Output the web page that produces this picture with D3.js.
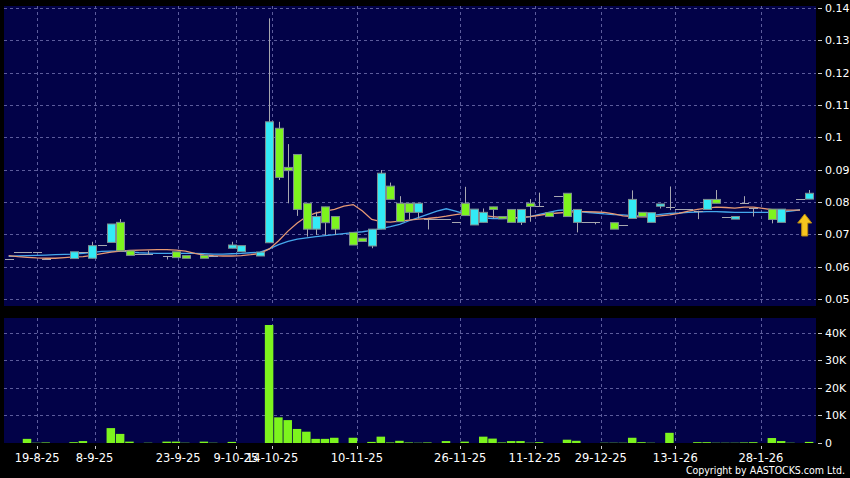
<!DOCTYPE html>
<html><head><meta charset="utf-8">
<script src="https://cdn.jsdelivr.net/npm/d3@7"></script>
<style>html,body{margin:0;padding:0;background:#000;} svg{display:block;}</style>
</head><body>
<script>
// ---- data (one entry per trading slot, null = no mark) ----
const openP  = [.0623,.0646,.0646,.0646,.0625,null,null,.0625,.0646,.0626,.0667,.0675,.0737,.0649,.0638,.0638,null,.0632,.0646,.0634,null,.0635,.0632,null,.0657,.0646,null,.0633,.0674,.1028,.0907,.0947,.0796,.0716,.0785,.0755,null,.0706,.0688,.0664,.0716,.0849,.0796,.0796,.0768,.0747,.0747,.0747,.0739,.0796,.0729,.0737,.0785,.0755,.0777,.0737,.0796,.0787,.0767,.0818,.0827,.0737,.0738,.0738,null,.0736,.0729,.0749,.0768,.0737,.0787,.0785,.0777,.0777,.0773,.0777,.0808,.0755,.0747,.0796,.0780,null,.0778,.0737,null,.0810,.0809];
const highP  = [.0623,.0646,.0646,.0646,.0625,null,null,.0646,.0646,.0677,.0667,.0732,.0747,.0649,.0638,.0650,null,.0632,.0646,.0634,null,.0635,.0632,null,.0677,.0665,null,.0645,.1368,.1048,.0979,.0947,.0796,.0770,.0785,.0755,null,.0706,.0688,.0716,.0899,.0860,.0818,.0796,.0796,.0747,.0747,.0747,.0739,.0847,.0778,.0780,.0785,.0755,.0777,.0777,.0809,.0829,.0767,.0818,.0827,.0777,.0738,.0738,null,.0736,.0729,.0836,.0768,.0767,.0794,.0848,.0777,.0777,.0773,.0808,.0837,.0755,.0755,.0818,.0780,null,.0778,.0778,null,.0810,.0837];
const lowP   = [.0623,.0646,.0646,.0646,.0625,null,null,.0625,.0646,.0626,.0667,.0675,.0649,.0635,.0638,.0638,null,.0622,.0628,.0626,null,.0626,.0632,null,.0657,.0646,null,.0633,.0674,.0868,.0796,.0757,.0693,.0698,.0698,.0698,null,.0667,.0678,.0657,.0716,.0808,.0739,.0746,.0749,.0715,.0747,.0747,.0739,.0758,.0729,.0737,.0749,.0748,.0737,.0729,.0739,.0787,.0755,.0818,.0755,.0706,.0738,.0731,null,.0716,.0729,.0749,.0755,.0737,.0780,.0775,.0777,.0777,.0747,.0777,.0796,.0755,.0747,.0796,.0755,null,.0734,.0737,null,.0810,.0809];
const closeP = [.0623,.0646,.0646,.0646,.0625,null,null,.0646,.0646,.0665,.0667,.0732,.0649,.0635,.0638,.0638,null,.0632,.0628,.0626,null,.0626,.0632,null,.0667,.0665,null,.0645,.1048,.0876,.0897,.0777,.0716,.0755,.0736,.0716,null,.0667,.0678,.0716,.0889,.0808,.0739,.0768,.0796,.0747,.0747,.0747,.0739,.0758,.0778,.0768,.0777,.0748,.0737,.0777,.0786,.0787,.0755,.0818,.0755,.0777,.0738,.0738,null,.0716,.0729,.0808,.0755,.0767,.0794,.0785,.0777,.0777,.0773,.0808,.0796,.0755,.0755,.0796,.0780,null,.0746,.0778,null,.0810,.0827];
// volume in thousands
const volumeK = [0,0,1.5,0.1,0.2,0,0,0.3,0.7,0,0,5.4,3.3,0.5,0,0.1,0,0.5,0.5,0.1,0,0.5,0.1,0,0.4,0,0,0,42.8,9.3,8.3,5.1,4.1,1.5,1.5,1.9,0,1.9,0,0.4,2.3,0.2,0.8,0.2,0.1,0.2,0,0.7,0,0.5,0,2.3,1.6,0.2,0.7,0.7,0.1,0.3,0,0,1.2,0.8,0,0,0.1,0.1,0.1,1.9,0.3,0.1,0,3.7,0,0,0.3,0.3,0.1,0.1,0.1,0.2,0.3,0,1.8,0.7,0.1,0,0.4];
// moving averages
const maShort = [.0634,.0631,.0629,.0627,.0626,.0626,.0628,.0630,.0631,.0635,.0640,.0645,.0648,.0650,.0651,.0652,.0653,.0653,.0651,.0648,.0641,.0636,.0634,.0633,.0633,.0634,.0637,.0641,.0655,.0680,.0710,.0735,.0755,.0766,.0772,.0777,.0787,.0792,.0772,.0746,.0739,.0738,.0741,.0744,.0747,.0749,.0752,.0756,.0761,.0765,.0762,.0758,.0755,.0752,.0751,.0752,.0755,.0759,.0763,.0766,.0768,.0770,.0770,.0769,.0768,.0763,.0757,.0755,.0754,.0754,.0757,.0760,.0765,.0772,.0777,.0781,.0784,.0783,.0781,.0784,.0784,.0780,.0776,.0775,.0775,.0775];
const maLong  = [.0632,.0633,.0634,.0635,.0636,.0637,.0638,.0639,.0641,.0644,.0647,.0648,.0648,.0646,.0643,.0642,.0641,.0641,.0641,.0641,.0641,.0640,.0639,.0639,.0640,.0641,.0643,.0645,.0655,.0668,.0678,.0685,.0689,.0693,.0696,.0699,.0702,.0705,.0708,.0712,.0718,.0724,.0731,.0742,.0752,.0762,.0772,.0779,.0772,.0763,.0756,.0751,.0749,.0749,.0750,.0751,.0755,.0762,.0768,.0774,.0776,.0771,.0768,.0766,.0763,.0761,.0760,.0758,.0756,.0758,.0762,.0765,.0766,.0768,.0769,.0770,.0770,.0769,.0768,.0768,.0768,.0768,.0768,.0769,.0772,.0776];
// axis ticks
const xTickLabels = ["19-8-25","8-9-25","23-9-25","9-10-25","14-10-25","10-11-25","26-11-25","11-12-25","29-12-25","13-1-26","28-1-26"];
const xTickAt     = [3.06,9.23,18.2,24.4,28.3,37.4,48.5,56.5,63.6,71.6,80.8];
const priceTicks  = [0.05,0.06,0.07,0.08,0.09,0.10,0.11,0.12,0.13,0.14];
const priceLabels = ["0.05","0.06","0.07","0.08","0.09","0.1","0.11","0.12","0.13","0.14"];
const volTicks    = [0,10,20,30,40];
const volLabels   = ["0","10K","20K","30K","40K"];

// ---- drawing ----
const W = 850, H = 478;
const C = {bg:"#000", panel:"#020248", grid:"#5c5c9c", up:"#33eaf5", down:"#7df41e",
           edge:"#7e9090", wick:"#a8a8b0", maS:"#e79a74", maL:"#45a8ec", text:"#fff"};
const FONT = "'DejaVu Sans', Verdana, sans-serif";

const svg = d3.select("body").append("svg").attr("width", W).attr("height", H)
  .style("background", C.bg);

const n = closeP.length;
const x = d3.scaleLinear().domain([-0.5, n - 0.5]).range([4, 814]);
const yP = d3.scaleLinear().domain([0.05, 0.14]).range([299, 8]);
const yV = d3.scaleLinear().domain([0, 40]).range([443, 332.7]);

const main = {x0: 4, x1: 816, y0: 6, y1: 306};
const vol  = {x0: 4, x1: 816, y0: 318, y1: 443};

svg.append("rect").attr("x", main.x0).attr("y", main.y0).attr("width", main.x1 - main.x0)
  .attr("height", main.y1 - main.y0).attr("fill", C.panel);
svg.append("rect").attr("x", vol.x0).attr("y", vol.y0).attr("width", vol.x1 - vol.x0)
  .attr("height", vol.y1 - vol.y0).attr("fill", C.panel);

const grid = svg.append("g").attr("stroke", C.grid).attr("stroke-width", 1)
  .attr("stroke-dasharray", "3,3").attr("fill", "none");
priceTicks.forEach(v => {
  const yy = Math.round(yP(v)) + 0.5;
  if (yy > main.y0 && yy < main.y1) grid.append("line").attr("x1", main.x0).attr("x2", main.x1).attr("y1", yy).attr("y2", yy);
});
volTicks.slice(1).forEach(v => {
  const yy = Math.round(yV(v)) + 0.5;
  grid.append("line").attr("x1", vol.x0).attr("x2", vol.x1).attr("y1", yy).attr("y2", yy);
});
xTickAt.forEach(t => {
  const xx = Math.round(x(t)) + 0.5;
  grid.append("line").attr("x1", xx).attr("x2", xx).attr("y1", main.y0).attr("y2", main.y1);
  grid.append("line").attr("x1", xx).attr("x2", xx).attr("y1", vol.y0).attr("y2", vol.y1);
});

// MA lines
const lineGen = d3.line().defined(d => d != null).x((d, i) => x(i)).y(d => yP(d));
svg.append("path").datum(maLong).attr("d", lineGen).attr("fill", "none")
  .attr("stroke", C.maL).attr("stroke-width", 1.3);
svg.append("path").datum(maShort).attr("d", lineGen).attr("fill", "none")
  .attr("stroke", C.maS).attr("stroke-width", 1.3);

// candles
const bw = 8;
const candles = svg.append("g");
d3.range(n).forEach(i => {
  if (closeP[i] == null) return;
  const o = openP[i], h = highP[i], l = lowP[i], c = closeP[i];
  const cx = Math.round(x(i)) + 0.5;
  if (h > Math.max(o, c) || l < Math.min(o, c)) {
    candles.append("line").attr("x1", cx).attr("x2", cx)
      .attr("y1", yP(h)).attr("y2", yP(l)).attr("stroke", C.wick).attr("stroke-width", 1);
  }
  if (o === c) {
    const yy = Math.round(yP(c)) + 0.5;
    candles.append("line").attr("x1", cx - bw / 2 - 0.5).attr("x2", cx + bw / 2 + 0.5)
      .attr("y1", yy).attr("y2", yy).attr("stroke", C.wick).attr("stroke-width", 1);
  } else {
    const top = yP(Math.max(o, c)), bot = yP(Math.min(o, c));
    candles.append("rect").attr("x", cx - bw / 2).attr("y", top)
      .attr("width", bw).attr("height", Math.max(1, bot - top))
      .attr("fill", c > o ? C.up : C.down).attr("stroke", C.edge).attr("stroke-width", 1);
  }
});

// volume bars
const vb = svg.append("g");
volumeK.forEach((v, i) => {
  if (!v) return;
  const cx = x(i);
  vb.append("rect").attr("x", cx - 4.5).attr("width", 8.5)
    .attr("y", yV(v)).attr("height", yV(0) - yV(v)).attr("fill", C.down);
});

// arrow marker near latest price
const ax = x(n - 1.5), ay = 214;
svg.append("path")
  .attr("d", `M${ax},${ay} L${ax + 7},${ay + 9} L${ax + 3},${ay + 9} L${ax + 3},${ay + 22} L${ax - 3},${ay + 22} L${ax - 3},${ay + 9} L${ax - 7},${ay + 9} Z`)
  .attr("fill", "#f7c51e").attr("stroke", "#b88a10").attr("stroke-width", 1);

// right axes
const axT = svg.append("g").attr("font-family", FONT).attr("font-size", 11).attr("fill", C.text);
priceTicks.forEach((v, i) => {
  const yy = Math.round(yP(v)) + 0.5;
  svg.append("line").attr("x1", 818).attr("x2", 822).attr("y1", yy).attr("y2", yy).attr("stroke", "#ccc");
  axT.append("text").attr("x", 825).attr("y", yy).attr("dy", "0.35em").text(priceLabels[i]);
});
volTicks.forEach((v, i) => {
  const yy = Math.round(yV(v)) + 0.5;
  svg.append("line").attr("x1", 818).attr("x2", 822).attr("y1", yy).attr("y2", yy).attr("stroke", "#ccc");
  axT.append("text").attr("x", 825).attr("y", yy).attr("dy", "0.35em").text(volLabels[i]);
});

// x axis
const xt = svg.append("g").attr("font-family", FONT).attr("font-size", 11.5).attr("fill", C.text)
  .attr("text-anchor", "middle");
xTickAt.forEach((t, i) => {
  const xx = Math.round(x(t)) + 0.5;
  svg.append("line").attr("x1", xx).attr("x2", xx).attr("y1", 446).attr("y2", 449).attr("stroke", "#ccc");
  xt.append("text").attr("x", x(t)).attr("y", 462).text(xTickLabels[i]);
});

svg.append("text").attr("x", 845).attr("y", 474).attr("text-anchor", "end")
  .attr("font-family", "'DejaVu Sans Condensed', 'DejaVu Sans', sans-serif").attr("font-stretch", "condensed")
  .attr("font-size", 10.5).attr("fill", C.text).text("Copyright by AASTOCKS.com Ltd.");
</script>
</body></html>
